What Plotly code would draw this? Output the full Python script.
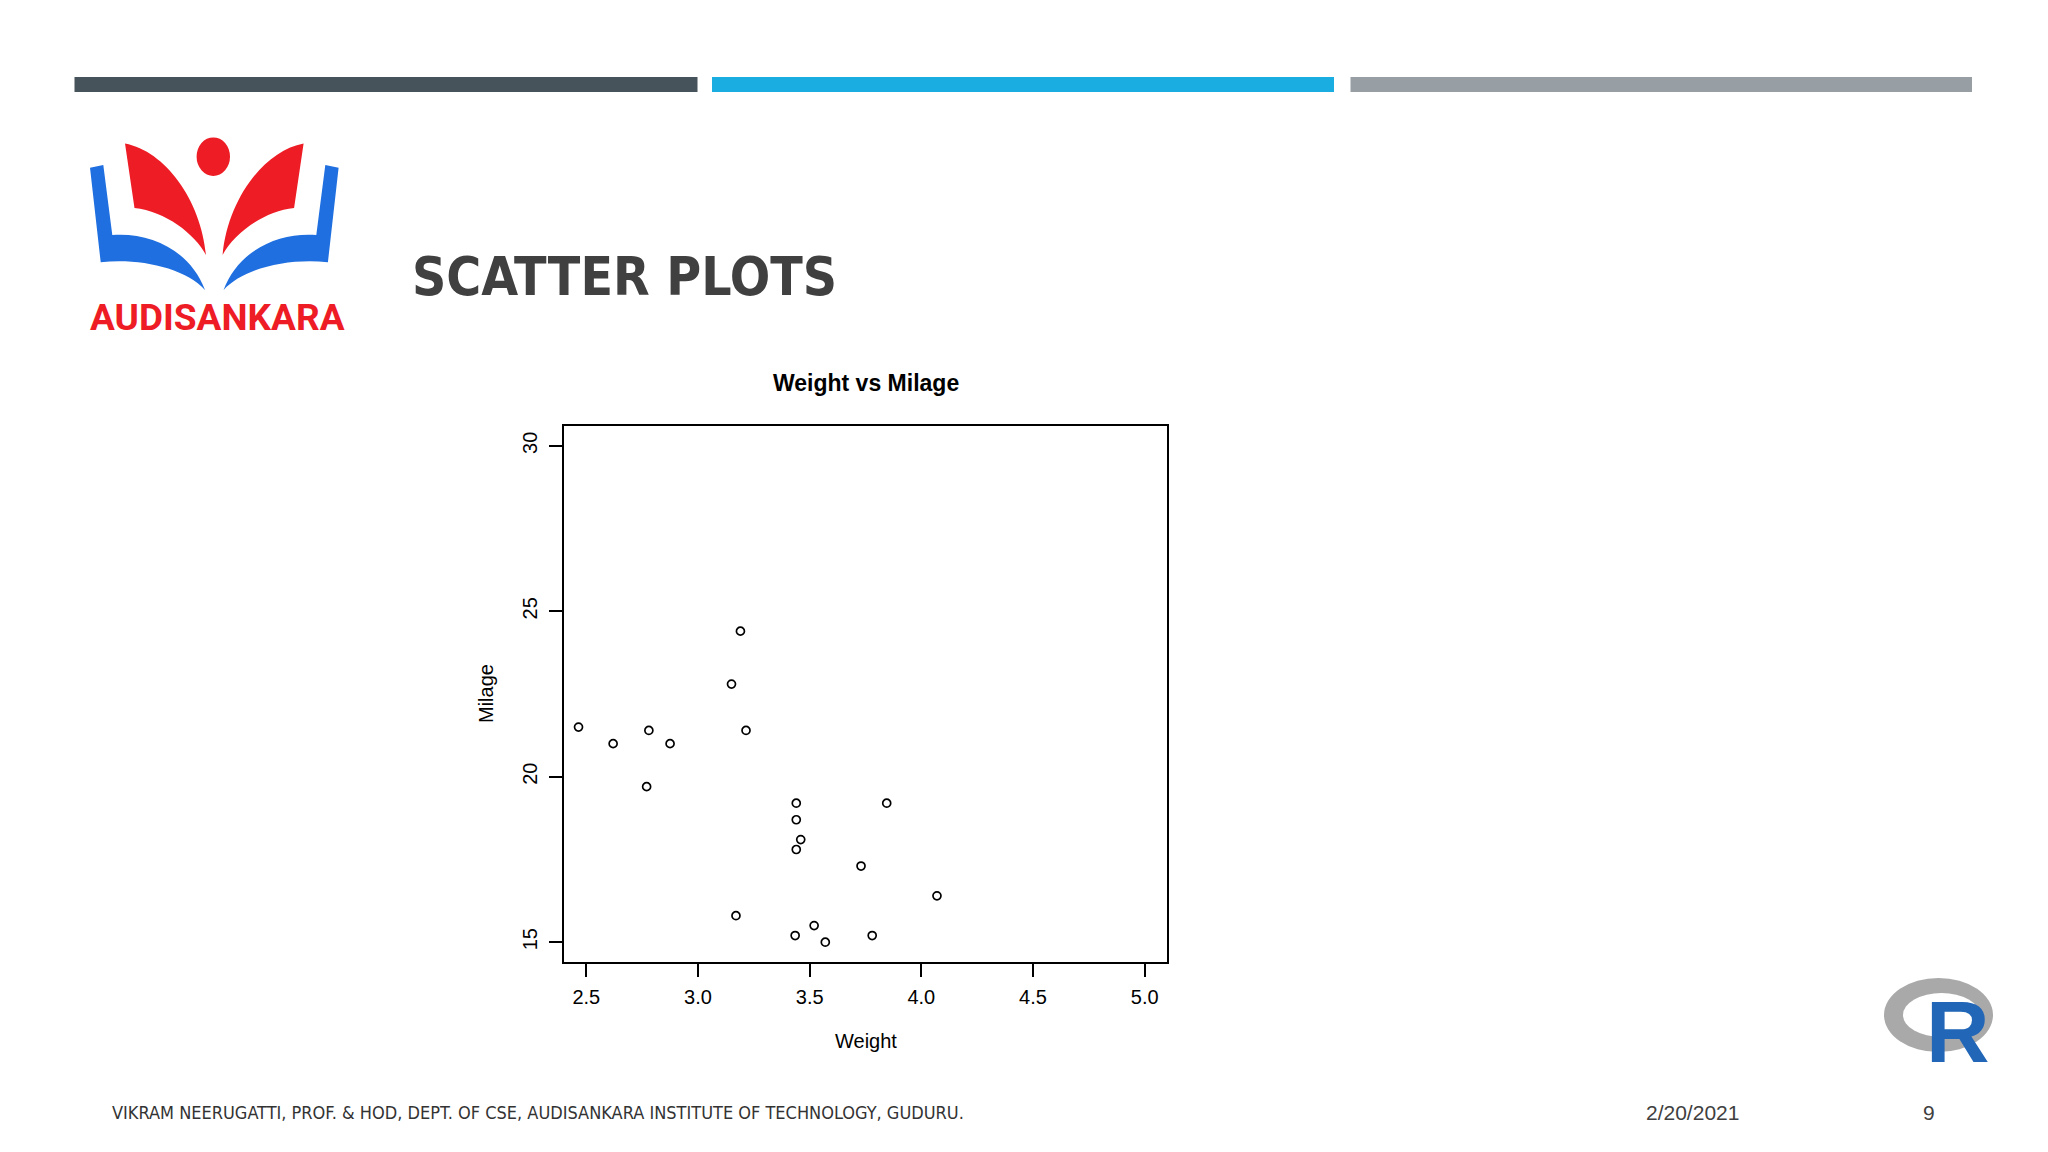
import plotly.graph_objects as go

W, H = 2048, 1152

# ---- data ----
weight = [2.465, 2.620, 2.780, 2.875, 2.770, 3.150, 3.190, 3.215, 3.440, 3.440,
          3.460, 3.440, 3.845, 3.730, 4.070, 3.170, 3.520, 3.435, 3.570, 3.780]
milage = [21.5, 21.0, 21.4, 21.0, 19.7, 22.8, 24.4, 21.4, 19.2, 18.7,
          18.1, 17.8, 19.2, 17.3, 16.4, 15.8, 15.5, 15.2, 15.0, 15.2]
x_ticks = [2.5, 3.0, 3.5, 4.0, 4.5, 5.0]
x_tick_labels = ["2.5", "3.0", "3.5", "4.0", "4.5", "5.0"]
y_ticks = [15, 20, 25, 30]
y_tick_labels = ["15", "20", "25", "30"]
chart_title = "Weight vs Milage"
x_title = "Weight"
y_title = "Milage"
slide_title = "SCATTER PLOTS"
logo_text = "AUDISANKARA"
footer_left = "VIKRAM NEERUGATTI, PROF. & HOD, DEPT. OF CSE, AUDISANKARA INSTITUTE OF TECHNOLOGY, GUDURU."
footer_date = "2/20/2021"
page_number = "9"

# ---- layout helpers (pixel -> paper) ----
def px(x):
    return x / W

def py(y):
    return 1 - y / H

def mkpath(cmds):
    s = ""
    for c, pts in cmds:
        s += c + " ".join(f"{px(x):.5f},{py(y):.5f}" for x, y in pts) + " "
    return s + "Z"

def mirror(cmds, axis=214.3):
    return [(c, [(2 * axis - x, y) for x, y in pts]) for c, pts in cmds]

PL, PR, PT, PB = 564, 1167, 426, 962
SANS = "Liberation Sans, Arial, sans-serif"
NARROW = "DejaVu Sans Condensed, Roboto, sans-serif"

fig = go.Figure()
fig.add_trace(go.Scatter(
    x=weight, y=milage, mode="markers",
    marker=dict(symbol="circle-open", size=8, color="black", line=dict(width=1.7)),
    cliponaxis=True, showlegend=False, hoverinfo="x+y",
))

shapes = []
# top bars
for x0, x1, col in [(74.5, 697.5, "#46535b"), (712, 1334, "#1aade2"), (1350.5, 1972, "#979fa4")]:
    shapes.append(dict(type="rect", xref="paper", yref="paper",
                       x0=px(x0), x1=px(x1), y0=py(92), y1=py(77),
                       fillcolor=col, line=dict(width=0), layer="above"))

# logo: red wings
RED = "#ee1c25"
BLUE = "#1f6fe0"
wing = [("M", [(125, 143.5)]), ("C", [(165, 151), (201, 200), (206, 255)]),
        ("C", [(195, 234), (165, 211), (134.5, 208)])]
blue = [("M", [(90, 167.7)]), ("L", [(103.3, 165)]), ("L", [(112.3, 235)]),
        ("C", [(150, 232), (190, 250), (205, 290)]),
        ("C", [(185, 268), (140, 258), (100.7, 262.3)])]
for cmds, col in [(wing, RED), (mirror(wing), RED), (blue, BLUE), (mirror(blue), BLUE)]:
    shapes.append(dict(type="path", xref="paper", yref="paper", path=mkpath(cmds),
                       fillcolor=col, line=dict(width=0), layer="above"))
shapes.append(dict(type="circle", xref="paper", yref="paper",
                   x0=px(213.3 - 16.7), x1=px(213.3 + 16.7),
                   y0=py(156.7 + 19.3), y1=py(156.7 - 19.3),
                   fillcolor=RED, line=dict(width=0), layer="above"))

# R logo ring
shapes.append(dict(type="circle", xref="paper", yref="paper",
                   x0=px(1884), x1=px(1993), y0=py(1052), y1=py(978),
                   fillcolor="#a9a9a9", line=dict(width=0), layer="above"))
shapes.append(dict(type="circle", xref="paper", yref="paper",
                   x0=px(1903), x1=px(1980), y0=py(1037), y1=py(993),
                   fillcolor="white", line=dict(width=0), layer="above"))

annotations = []
def ann(text, x, y, size, color="black", family=SANS, xanchor="center",
        yanchor="middle", angle=0):
    annotations.append(dict(text=text, x=px(x), y=py(y), xref="paper", yref="paper",
                            showarrow=False, xanchor=xanchor, yanchor=yanchor,
                            textangle=angle, font=dict(size=size, color=color, family=family)))

ann(f"<b>{logo_text}</b>", 217, 317, 37, RED, "Roboto, Liberation Sans, sans-serif")
ann(f"<b>{slide_title}</b>", 410, 277, 53, "#404040", NARROW, xanchor="left")
ann(f"<b>{chart_title}</b>", (PL + PR) / 2, 383, 23)
ann(x_title, (PL + PR) / 2, 1041, 20)
ann(y_title, 486, (PT + PB) / 2, 20, angle=-90)
ann(footer_left, 110, 1112, 18, "#333333", NARROW, xanchor="left")
ann(footer_date, 1692, 1112, 21, "#404040")
ann(page_number, 1929, 1112, 21, "#404040")
ann("<b>R</b>", 1958, 1031, 88, "#2166b7", "Liberation Sans, Arial, sans-serif")

axis_common = dict(
    showgrid=False, zeroline=False, showline=True, mirror=True,
    linecolor="black", linewidth=2, ticks="outside", ticklen=13, tickwidth=1.5,
    tickcolor="black", tickfont=dict(size=20, color="black", family=SANS),
    automargin=False,
)

fig.update_layout(
    width=W, height=H, margin=dict(l=0, r=0, t=0, b=0),
    paper_bgcolor="white", plot_bgcolor="white",
    xaxis=dict(domain=[px(PL), px(PR)], range=[2.4, 5.1],
               tickvals=x_ticks, ticktext=x_tick_labels, ticklabelstandoff=3, **axis_common),
    yaxis=dict(domain=[py(PB), py(PT)], range=[14.4, 30.6],
               tickvals=y_ticks, ticktext=y_tick_labels, tickangle=-90,
               ticklabelstandoff=4, **axis_common),
    shapes=shapes, annotations=annotations, showlegend=False,
)

fig.write_html("out.html", config={"displayModeBar": False},
               post_script="document.body.style.margin='0';document.body.style.padding='0';")
